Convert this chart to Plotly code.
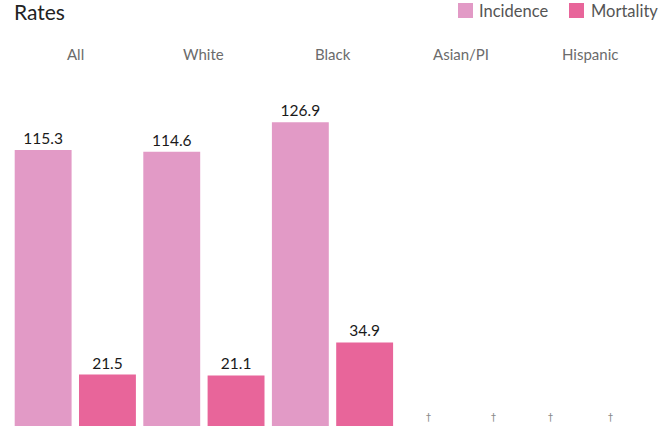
import plotly.graph_objects as go

categories = ["All", "White", "Black", "Asian/PI", "Hispanic"]
incidence = [115.3, 114.6, 126.9, None, None]
mortality = [21.5, 21.1, 34.9, None, None]
suppressed = ["Asian/PI", "Hispanic"]
series_names = ["Incidence", "Mortality"]

inc_color = "#e29ac6"
mor_color = "#e8659a"
FONT = "Lato"

def fmt(v):
    return "" if v is None else f"{v:.1f}"

fig = go.Figure()
fig.add_trace(go.Bar(
    name=series_names[0], x=categories, y=incidence,
    marker=dict(color=inc_color, line=dict(width=0)),
    text=[fmt(v) for v in incidence], textposition="outside",
    textfont=dict(family=FONT, size=15.5, color="#1a1a1a"),
    cliponaxis=False, hoverinfo="skip",
))
fig.add_trace(go.Bar(
    name=series_names[1], x=categories, y=mortality,
    marker=dict(color=mor_color, line=dict(width=0)),
    text=[fmt(v) for v in mortality], textposition="outside",
    textfont=dict(family=FONT, size=15.5, color="#1a1a1a"),
    cliponaxis=False, hoverinfo="skip",
))

W, H = 672, 428
T, B, L, R = 70, 2, 11, 18
plot_h = H - T - B
plot_w = W - L - R

def px(x):
    return (x - L) / plot_w

def py(y):
    return 1 + (T - y) / plot_h

annotations = []
shapes = []
for c in categories:
    annotations.append(dict(
        x=c, xref="x", y=py(54), yref="paper",
        text=c, showarrow=False, yanchor="middle",
        font=dict(family=FONT, size=15, color="#6b6b6b"),
    ))
dagger_shifts = {"Asian/PI": (-33, 32), "Hispanic": (-39, 21)}
for c in suppressed:
    for shift in dagger_shifts[c]:
        annotations.append(dict(
            x=c, xref="x", y=0, yref="y", text="†", showarrow=False,
            yanchor="bottom", xshift=shift, yshift=1,
            font=dict(family="DejaVu Sans", size=10, color="#8a8a8a"),
        ))
annotations.append(dict(
    x=px(12), xref="paper", y=py(11), yref="paper",
    text="Rates", showarrow=False, xanchor="left", yanchor="middle",
    font=dict(family=FONT, size=21, color="#222222"),
))

# legend (drawn manually to match square size and spacing)
legend_items = [(series_names[0], inc_color, 458, 479),
                (series_names[1], mor_color, 569, 591)]
for name, col, sx, tx in legend_items:
    shapes.append(dict(
        type="rect", xref="paper", yref="paper",
        x0=px(sx), x1=px(sx + 15), y0=py(18), y1=py(3),
        fillcolor=col, line=dict(width=0),
    ))
    annotations.append(dict(
        x=px(tx), xref="paper", y=py(11), yref="paper",
        text=name, showarrow=False, xanchor="left", yanchor="middle",
        xshift=-2,
        font=dict(family=FONT, size=16.5, color="#555555"),
    ))

fig.update_layout(
    width=W, height=H,
    margin=dict(l=L, r=R, t=T, b=B, autoexpand=False),
    paper_bgcolor="white", plot_bgcolor="white",
    barmode="group", bargap=0.0, bargroupgap=0.115,
    showlegend=False,
    xaxis=dict(visible=False, range=[-0.5, 4.5]),
    yaxis=dict(visible=False, range=[0, 148.7]),
    annotations=annotations,
    shapes=shapes,
    font=dict(family=FONT),
)

fig.write_html(
    "out.html",
    config={"displayModeBar": False},
    post_script="document.body.style.margin='0';document.body.style.overflow='hidden';",
)
